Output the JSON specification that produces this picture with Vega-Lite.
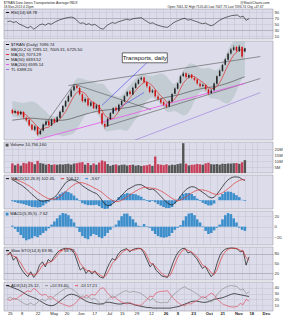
{
  "$schema": "https://vega.github.io/schema/vega-lite/v6.json",
  "padding": {"left": 3, "top": 1, "right": 0, "bottom": 0},
  "background": "white",
  "spacing": 0,
  "title": {
    "text": "$TRAN Dow Jones Transportation Average INDX\u2003\u2003\u2003\u2003\u2003\u2003\u2003\u2003\u2003\u2003\u2003\u2003\u2003\u2003\u2003\u2003\u2003\u2003\u2003\u2003\u2003\u2003\u2003\u2003\u2003\u2003\u2003\u2003\u2003\u2003\u2003\u2003\u2003\u2003\u2003\u2003\u2003\u2003\u2003\u2003\u2003\u2003\u2003\u2003\u2003\u2003\u2003\u2003@StockCharts.com",
    "subtitle": "18-Nov-2013 4:25pm\u2003\u2003\u2003\u2003\u2003\u2003\u2003\u2003\u2003\u2003\u2003\u2003\u2003\u2003\u2003\u2003\u2003\u2003\u2003\u2003\u2003\u2003\u2003\u2003\u2003\u2003\u2003\u2003\u2003\u2003\u2003\u2003\u2003\u2003\u2003\u2003\u2003\u2003\u2003\u2003\u2003\u2003Open 7061.32 High 7105.40 Low 7047.73 Last 7096.74 Chg +47.67",
    "anchor": "start", "fontSize": 3.4, "fontWeight": "normal", "subtitleFontSize": 3.2,
    "offset": 0.5, "subtitlePadding": 0.3, "color": "#222", "subtitleColor": "#222",
    "font": "Liberation Sans", "subtitleFont": "Liberation Sans"
  },
  "resolve": {"scale": {"color": "independent", "x": "independent", "y": "independent"}, "legend": {"color": "independent"}},
  "config": {
    "font": "Liberation Sans",
    "view": {"stroke": "#8f8f9f", "strokeWidth": 0.5, "fill": "#dcdcea"},
    "axis": {"domain": false, "ticks": false, "grid": true, "gridColor": "#c3c3d3", "gridWidth": 0.5, "labelFontSize": 4.2, "labelColor": "#333", "labelPadding": 1},
    "legend": {"orient": "top-left", "offset": 1, "labelFontSize": 4.2, "symbolType": "stroke", "symbolSize": 10, "symbolStrokeWidth": 1, "padding": 0, "rowPadding": 0, "labelOffset": 1, "labelLimit": 300, "columnPadding": 2, "labelColor": "#222"}
  },
  "datasets": {
    "d": [
      {"i":1,"o":6225,"h":6240,"l":6165,"c":6180,"v":8.1,"m10":6200,"m50":6080,"bu":6350,"bl":6130,"rsi":58,"macd":105,"sig":110,"h1":-5,"h2":2,"k":75,"d":78,"adx":44,"pdi":22,"mdi":20},
      {"i":3,"o":6185,"h":6230,"l":6170,"c":6210,"v":6.5,"m10":6195,"m50":6085,"bu":6345,"bl":6125,"rsi":60,"macd":98,"sig":107,"h1":-9,"h2":-4,"k":85,"d":80,"adx":42,"pdi":24,"mdi":18},
      {"i":5,"o":6205,"h":6220,"l":6140,"c":6160,"v":7.8,"m10":6185,"m50":6090,"bu":6335,"bl":6115,"rsi":55,"macd":88,"sig":102,"h1":-14,"h2":-10,"k":60,"d":72,"adx":40,"pdi":20,"mdi":22},
      {"i":7,"o":6165,"h":6215,"l":6150,"c":6200,"v":6.2,"m10":6190,"m50":6095,"bu":6330,"bl":6110,"rsi":58,"macd":80,"sig":96,"h1":-16,"h2":-16,"k":70,"d":70,"adx":38,"pdi":22,"mdi":20},
      {"i":9,"o":6195,"h":6210,"l":6100,"c":6120,"v":8.5,"m10":6174,"m50":6100,"bu":6325,"bl":6085,"rsi":50,"macd":70,"sig":90,"h1":-20,"h2":-22,"k":45,"d":58,"adx":36,"pdi":18,"mdi":25},
      {"i":11,"o":6115,"h":6130,"l":6060,"c":6080,"v":8.0,"m10":6154,"m50":6105,"bu":6330,"bl":6050,"rsi":46,"macd":58,"sig":82,"h1":-24,"h2":-26,"k":30,"d":45,"adx":33,"pdi":15,"mdi":28},
      {"i":13,"o":6085,"h":6095,"l":5990,"c":6010,"v":9.5,"m10":6114,"m50":6108,"bu":6340,"bl":6000,"rsi":41,"macd":45,"sig":74,"h1":-29,"h2":-24,"k":18,"d":30,"adx":30,"pdi":12,"mdi":32},
      {"i":15,"o":6015,"h":6030,"l":5930,"c":5950,"v":9.0,"m10":6072,"m50":6108,"bu":6345,"bl":5945,"rsi":37,"macd":30,"sig":64,"h1":-34,"h2":-22,"k":10,"d":19,"adx":27,"pdi":11,"mdi":35},
      {"i":17,"o":5945,"h":6010,"l":5925,"c":5990,"v":7.4,"m10":6030,"m50":6106,"bu":6335,"bl":5915,"rsi":42,"macd":18,"sig":53,"h1":-35,"h2":-18,"k":25,"d":18,"adx":25,"pdi":14,"mdi":33},
      {"i":19,"o":5985,"h":5995,"l":5860,"c":5880,"v":10.2,"m10":5982,"m50":6102,"bu":6308,"bl":5848,"rsi":33,"macd":5,"sig":42,"h1":-37,"h2":-20,"k":8,"d":15,"adx":23,"pdi":10,"mdi":39},
      {"i":21,"o":5885,"h":5950,"l":5870,"c":5930,"v":8.3,"m10":5952,"m50":6098,"bu":6273,"bl":5833,"rsi":39,"macd":-3,"sig":32,"h1":-35,"h2":-16,"k":20,"d":18,"adx":21,"pdi":13,"mdi":36},
      {"i":23,"o":5935,"h":6035,"l":5920,"c":6020,"v":7.9,"m10":5954,"m50":6095,"bu":6234,"bl":5834,"rsi":47,"macd":-5,"sig":22,"h1":-27,"h2":-12,"k":45,"d":30,"adx":18,"pdi":18,"mdi":30},
      {"i":25,"o":6015,"h":6080,"l":6000,"c":6060,"v":7.0,"m10":5976,"m50":6092,"bu":6204,"bl":5844,"rsi":50,"macd":-2,"sig":14,"h1":-16,"h2":-8,"k":55,"d":45,"adx":15,"pdi":20,"mdi":27},
      {"i":27,"o":6065,"h":6085,"l":5995,"c":6010,"v":7.6,"m10":5980,"m50":6088,"bu":6155,"bl":5855,"rsi":46,"macd":0,"sig":8,"h1":-8,"h2":-3,"k":40,"d":48,"adx":12,"pdi":17,"mdi":29},
      {"i":29,"o":6005,"h":6105,"l":5995,"c":6090,"v":6.8,"m10":6022,"m50":6085,"bu":6142,"bl":5862,"rsi":52,"macd":8,"sig":5,"h1":3,"h2":4,"k":62,"d":52,"adx":10,"pdi":22,"mdi":24},
      {"i":31,"o":6095,"h":6110,"l":6035,"c":6050,"v":7.2,"m10":6046,"m50":6080,"bu":6129,"bl":5869,"rsi":49,"macd":15,"sig":6,"h1":9,"h2":10,"k":55,"d":56,"adx":9,"pdi":20,"mdi":25},
      {"i":33,"o":6055,"h":6135,"l":6045,"c":6120,"v":6.9,"m10":6066,"m50":6078,"bu":6150,"bl":5870,"rsi":55,"macd":30,"sig":10,"h1":20,"h2":16,"k":70,"d":62,"adx":10,"pdi":25,"mdi":21},
      {"i":35,"o":6115,"h":6215,"l":6105,"c":6200,"v":7.3,"m10":6094,"m50":6078,"bu":6205,"bl":5865,"rsi":60,"macd":50,"sig":18,"h1":32,"h2":22,"k":82,"d":74,"adx":13,"pdi":29,"mdi":17},
      {"i":37,"o":6195,"h":6295,"l":6185,"c":6280,"v":7.1,"m10":6148,"m50":6080,"bu":6274,"bl":5854,"rsi":64,"macd":70,"sig":30,"h1":40,"h2":26,"k":90,"d":84,"adx":17,"pdi":33,"mdi":14},
      {"i":39,"o":6275,"h":6365,"l":6265,"c":6350,"v":7.5,"m10":6200,"m50":6085,"bu":6361,"bl":5861,"rsi":67,"macd":90,"sig":44,"h1":46,"h2":25,"k":94,"d":91,"adx":21,"pdi":36,"mdi":12},
      {"i":41,"o":6345,"h":6440,"l":6335,"c":6420,"v":7.7,"m10":6274,"m50":6092,"bu":6450,"bl":5870,"rsi":70,"macd":100,"sig":58,"h1":42,"h2":22,"k":96,"d":94,"adx":25,"pdi":39,"mdi":10},
      {"i":43,"o":6415,"h":6520,"l":6405,"c":6500,"v":7.0,"m10":6350,"m50":6102,"bu":6538,"bl":5878,"rsi":72,"macd":105,"sig":70,"h1":35,"h2":15,"k":95,"d":95,"adx":28,"pdi":40,"mdi":8},
      {"i":45,"o":6505,"h":6585,"l":6490,"c":6560,"v":7.9,"m10":6422,"m50":6115,"bu":6618,"bl":5898,"rsi":73,"macd":104,"sig":80,"h1":24,"h2":8,"k":92,"d":94,"adx":29,"pdi":38,"mdi":9},
      {"i":47,"o":6565,"h":6590,"l":6520,"c":6540,"v":8.2,"m10":6474,"m50":6128,"bu":6671,"bl":5951,"rsi":70,"macd":98,"sig":88,"h1":10,"h2":-2,"k":80,"d":88,"adx":28,"pdi":35,"mdi":12},
      {"i":49,"o":6535,"h":6550,"l":6430,"c":6450,"v":8.8,"m10":6494,"m50":6140,"bu":6677,"bl":6017,"rsi":60,"macd":88,"sig":91,"h1":-3,"h2":-10,"k":55,"d":72,"adx":26,"pdi":30,"mdi":17},
      {"i":51,"o":6445,"h":6460,"l":6330,"c":6350,"v":9.1,"m10":6480,"m50":6152,"bu":6667,"bl":6087,"rsi":52,"macd":75,"sig":90,"h1":-15,"h2":-18,"k":30,"d":50,"adx":23,"pdi":25,"mdi":23},
      {"i":53,"o":6345,"h":6405,"l":6325,"c":6380,"v":7.0,"m10":6456,"m50":6164,"bu":6653,"bl":6153,"rsi":54,"macd":65,"sig":86,"h1":-21,"h2":-22,"k":38,"d":40,"adx":20,"pdi":26,"mdi":22},
      {"i":55,"o":6385,"h":6395,"l":6270,"c":6290,"v":8.4,"m10":6402,"m50":6175,"bu":6642,"bl":6182,"rsi":48,"macd":55,"sig":80,"h1":-25,"h2":-24,"k":20,"d":30,"adx":17,"pdi":22,"mdi":27},
      {"i":57,"o":6285,"h":6350,"l":6270,"c":6330,"v":6.6,"m10":6360,"m50":6185,"bu":6637,"bl":6197,"rsi":51,"macd":48,"sig":73,"h1":-25,"h2":-18,"k":30,"d":28,"adx":15,"pdi":24,"mdi":25},
      {"i":59,"o":6335,"h":6345,"l":6235,"c":6250,"v":8.0,"m10":6320,"m50":6195,"bu":6627,"bl":6187,"rsi":46,"macd":40,"sig":65,"h1":-25,"h2":-14,"k":18,"d":24,"adx":14,"pdi":20,"mdi":29},
      {"i":61,"o":6245,"h":6310,"l":6230,"c":6290,"v":6.9,"m10":6308,"m50":6205,"bu":6604,"bl":6184,"rsi":49,"macd":35,"sig":58,"h1":-23,"h2":-16,"k":28,"d":25,"adx":13,"pdi":22,"mdi":27},
      {"i":63,"o":6295,"h":6305,"l":6165,"c":6180,"v":8.7,"m10":6268,"m50":6212,"bu":6592,"bl":6132,"rsi":42,"macd":20,"sig":50,"h1":-30,"h2":-20,"k":15,"d":20,"adx":12,"pdi":17,"mdi":33},
      {"i":65,"o":6175,"h":6185,"l":6010,"c":6030,"v":10.5,"m10":6216,"m50":6218,"bu":6599,"bl":6019,"rsi":35,"macd":0,"sig":40,"h1":-40,"h2":-22,"k":8,"d":14,"adx":12,"pdi":12,"mdi":39},
      {"i":67,"o":6025,"h":6050,"l":5960,"c":5990,"v":9.8,"m10":6148,"m50":6222,"bu":6574,"bl":5934,"rsi":33,"macd":-20,"sig":28,"h1":-48,"h2":-18,"k":6,"d":9,"adx":13,"pdi":11,"mdi":40},
      {"i":69,"o":5995,"h":6115,"l":5985,"c":6100,"v":7.5,"m10":6118,"m50":6226,"bu":6519,"bl":5919,"rsi":44,"macd":-28,"sig":15,"h1":-43,"h2":-12,"k":30,"d":15,"adx":15,"pdi":18,"mdi":33},
      {"i":71,"o":6095,"h":6195,"l":6085,"c":6180,"v":6.1,"m10":6096,"m50":6230,"bu":6472,"bl":5932,"rsi":50,"macd":-25,"sig":5,"h1":-30,"h2":-6,"k":50,"d":32,"adx":15,"pdi":22,"mdi":28},
      {"i":73,"o":6175,"h":6265,"l":6165,"c":6250,"v":6.8,"m10":6110,"m50":6235,"bu":6439,"bl":5939,"rsi":55,"macd":-15,"sig":-3,"h1":-12,"h2":-1,"k":65,"d":50,"adx":14,"pdi":26,"mdi":22},
      {"i":75,"o":6255,"h":6275,"l":6205,"c":6220,"v":7.2,"m10":6148,"m50":6240,"bu":6422,"bl":5942,"rsi":52,"macd":-5,"sig":-7,"h1":2,"h2":4,"k":60,"d":60,"adx":13,"pdi":24,"mdi":24},
      {"i":77,"o":6215,"h":6315,"l":6205,"c":6300,"v":6.4,"m10":6210,"m50":6244,"bu":6409,"bl":5949,"rsi":57,"macd":10,"sig":-6,"h1":16,"h2":12,"k":78,"d":68,"adx":12,"pdi":28,"mdi":19},
      {"i":79,"o":6295,"h":6370,"l":6285,"c":6350,"v":6.9,"m10":6260,"m50":6248,"bu":6429,"bl":5949,"rsi":60,"macd":25,"sig":0,"h1":25,"h2":20,"k":88,"d":80,"adx":12,"pdi":31,"mdi":16},
      {"i":81,"o":6345,"h":6435,"l":6335,"c":6420,"v":7.1,"m10":6308,"m50":6252,"bu":6472,"bl":5932,"rsi":63,"macd":40,"sig":8,"h1":32,"h2":25,"k":92,"d":88,"adx":13,"pdi":34,"mdi":14},
      {"i":83,"o":6425,"h":6495,"l":6410,"c":6480,"v":6.3,"m10":6354,"m50":6258,"bu":6532,"bl":5932,"rsi":66,"macd":55,"sig":18,"h1":37,"h2":25,"k":95,"d":92,"adx":14,"pdi":35,"mdi":12},
      {"i":85,"o":6485,"h":6500,"l":6430,"c":6450,"v":6.7,"m10":6400,"m50":6265,"bu":6574,"bl":5974,"rsi":63,"macd":62,"sig":28,"h1":34,"h2":20,"k":85,"d":90,"adx":13,"pdi":32,"mdi":15},
      {"i":87,"o":6445,"h":6555,"l":6435,"c":6540,"v":7.0,"m10":6448,"m50":6272,"bu":6619,"bl":6039,"rsi":67,"macd":70,"sig":38,"h1":32,"h2":14,"k":92,"d":90,"adx":12,"pdi":34,"mdi":12},
      {"i":89,"o":6535,"h":6615,"l":6525,"c":6600,"v":6.2,"m10":6498,"m50":6280,"bu":6669,"bl":6089,"rsi":69,"macd":78,"sig":47,"h1":31,"h2":8,"k":95,"d":92,"adx":10,"pdi":33,"mdi":11},
      {"i":91,"o":6595,"h":6670,"l":6585,"c":6650,"v":6.6,"m10":6544,"m50":6290,"bu":6706,"bl":6146,"rsi":70,"macd":80,"sig":55,"h1":25,"h2":2,"k":96,"d":95,"adx":9,"pdi":32,"mdi":10},
      {"i":93,"o":6655,"h":6700,"l":6640,"c":6680,"v":5.9,"m10":6584,"m50":6300,"bu":6729,"bl":6209,"rsi":71,"macd":80,"sig":62,"h1":18,"h2":1,"k":94,"d":95,"adx":8,"pdi":30,"mdi":10},
      {"i":95,"o":6685,"h":6695,"l":6600,"c":6620,"v":6.3,"m10":6618,"m50":6312,"bu":6729,"bl":6289,"rsi":64,"macd":72,"sig":66,"h1":6,"h2":5,"k":80,"d":88,"adx":7,"pdi":26,"mdi":15},
      {"i":97,"o":6615,"h":6630,"l":6540,"c":6560,"v":6.5,"m10":6622,"m50":6324,"bu":6715,"bl":6355,"rsi":58,"macd":62,"sig":66,"h1":-4,"h2":1,"k":60,"d":72,"adx":6,"pdi":22,"mdi":20},
      {"i":99,"o":6555,"h":6570,"l":6460,"c":6480,"v":7.2,"m10":6598,"m50":6336,"bu":6708,"bl":6388,"rsi":52,"macd":55,"sig":64,"h1":-9,"h2":-2,"k":40,"d":52,"adx":6,"pdi":18,"mdi":26},
      {"i":101,"o":6475,"h":6520,"l":6460,"c":6500,"v":6.0,"m10":6568,"m50":6348,"bu":6706,"bl":6406,"rsi":54,"macd":58,"sig":62,"h1":-4,"h2":-8,"k":50,"d":48,"adx":5,"pdi":22,"mdi":24},
      {"i":103,"o":6505,"h":6515,"l":6400,"c":6420,"v":13.8,"m10":6516,"m50":6360,"bu":6720,"bl":6380,"rsi":48,"macd":50,"sig":60,"h1":-10,"h2":-14,"k":30,"d":40,"adx":5,"pdi":16,"mdi":31},
      {"i":105,"o":6415,"h":6440,"l":6360,"c":6380,"v":7.4,"m10":6468,"m50":6372,"bu":6733,"bl":6353,"rsi":45,"macd":35,"sig":55,"h1":-20,"h2":-18,"k":22,"d":30,"adx":5,"pdi":15,"mdi":33},
      {"i":107,"o":6375,"h":6395,"l":6310,"c":6330,"v":7.0,"m10":6422,"m50":6384,"bu":6742,"bl":6302,"rsi":42,"macd":20,"sig":48,"h1":-28,"h2":-20,"k":12,"d":20,"adx":5,"pdi":14,"mdi":34},
      {"i":109,"o":6335,"h":6355,"l":6280,"c":6300,"v":6.6,"m10":6386,"m50":6394,"bu":6732,"bl":6252,"rsi":40,"macd":5,"sig":40,"h1":-35,"h2":-21,"k":10,"d":13,"adx":5,"pdi":15,"mdi":34},
      {"i":111,"o":6295,"h":6320,"l":6250,"c":6270,"v":7.3,"m10":6340,"m50":6404,"bu":6704,"bl":6204,"rsi":39,"macd":-10,"sig":30,"h1":-40,"h2":-20,"k":8,"d":10,"adx":5,"pdi":14,"mdi":35},
      {"i":113,"o":6275,"h":6365,"l":6265,"c":6350,"v":6.4,"m10":6326,"m50":6412,"bu":6651,"bl":6191,"rsi":46,"macd":-20,"sig":20,"h1":-40,"h2":-18,"k":30,"d":16,"adx":5,"pdi":22,"mdi":28},
      {"i":115,"o":6345,"h":6465,"l":6335,"c":6450,"v":7.0,"m10":6340,"m50":6420,"bu":6604,"bl":6204,"rsi":54,"macd":-25,"sig":10,"h1":-35,"h2":-12,"k":55,"d":35,"adx":6,"pdi":28,"mdi":22},
      {"i":117,"o":6455,"h":6545,"l":6445,"c":6530,"v":6.8,"m10":6380,"m50":6428,"bu":6591,"bl":6211,"rsi":59,"macd":-15,"sig":2,"h1":-17,"h2":-6,"k":75,"d":58,"adx":7,"pdi":32,"mdi":17},
      {"i":119,"o":6525,"h":6615,"l":6515,"c":6600,"v":7.5,"m10":6440,"m50":6436,"bu":6633,"bl":6193,"rsi":63,"macd":0,"sig":-3,"h1":3,"h2":-2,"k":88,"d":76,"adx":8,"pdi":36,"mdi":13},
      {"i":121,"o":6605,"h":6720,"l":6595,"c":6700,"v":8.0,"m10":6526,"m50":6446,"bu":6703,"bl":6163,"rsi":67,"macd":20,"sig":0,"h1":20,"h2":3,"k":95,"d":88,"adx":10,"pdi":40,"mdi":10},
      {"i":123,"o":6705,"h":6765,"l":6690,"c":6740,"v":25.0,"m10":6604,"m50":6458,"bu":6785,"bl":6145,"rsi":69,"macd":40,"sig":8,"h1":32,"h2":12,"k":96,"d":94,"adx":12,"pdi":42,"mdi":9},
      {"i":125,"o":6745,"h":6755,"l":6670,"c":6690,"v":7.8,"m10":6652,"m50":6470,"bu":6836,"bl":6156,"rsi":63,"macd":55,"sig":18,"h1":37,"h2":20,"k":82,"d":90,"adx":14,"pdi":38,"mdi":13},
      {"i":127,"o":6685,"h":6740,"l":6670,"c":6720,"v":6.4,"m10":6690,"m50":6482,"bu":6875,"bl":6195,"rsi":65,"macd":65,"sig":28,"h1":37,"h2":25,"k":85,"d":86,"adx":16,"pdi":36,"mdi":12},
      {"i":129,"o":6725,"h":6735,"l":6660,"c":6680,"v":6.9,"m10":6706,"m50":6494,"bu":6883,"bl":6263,"rsi":61,"macd":70,"sig":38,"h1":32,"h2":26,"k":75,"d":80,"adx":17,"pdi":33,"mdi":15},
      {"i":131,"o":6675,"h":6700,"l":6630,"c":6650,"v":7.1,"m10":6696,"m50":6504,"bu":6871,"bl":6351,"rsi":58,"macd":68,"sig":46,"h1":22,"h2":22,"k":65,"d":72,"adx":17,"pdi":30,"mdi":17},
      {"i":133,"o":6655,"h":6665,"l":6580,"c":6600,"v":7.6,"m10":6668,"m50":6514,"bu":6836,"bl":6436,"rsi":54,"macd":60,"sig":52,"h1":8,"h2":14,"k":50,"d":60,"adx":16,"pdi":26,"mdi":21},
      {"i":135,"o":6595,"h":6620,"l":6540,"c":6560,"v":7.3,"m10":6642,"m50":6522,"bu":6817,"bl":6477,"rsi":51,"macd":50,"sig":54,"h1":-4,"h2":8,"k":35,"d":45,"adx":15,"pdi":22,"mdi":25},
      {"i":137,"o":6565,"h":6600,"l":6545,"c":6580,"v":6.9,"m10":6614,"m50":6530,"bu":6812,"bl":6492,"rsi":53,"macd":40,"sig":53,"h1":-13,"h2":1,"k":42,"d":40,"adx":15,"pdi":24,"mdi":23},
      {"i":139,"o":6575,"h":6590,"l":6500,"c":6520,"v":8.1,"m10":6582,"m50":6536,"bu":6814,"bl":6474,"rsi":48,"macd":30,"sig":50,"h1":-20,"h2":-8,"k":25,"d":34,"adx":16,"pdi":19,"mdi":27},
      {"i":141,"o":6515,"h":6530,"l":6440,"c":6460,"v":8.6,"m10":6544,"m50":6542,"bu":6820,"bl":6420,"rsi":44,"macd":18,"sig":45,"h1":-27,"h2":-14,"k":10,"d":22,"adx":18,"pdi":15,"mdi":31},
      {"i":143,"o":6465,"h":6520,"l":6450,"c":6500,"v":7.4,"m10":6524,"m50":6548,"bu":6806,"bl":6386,"rsi":48,"macd":12,"sig":38,"h1":-26,"h2":-12,"k":20,"d":16,"adx":20,"pdi":20,"mdi":28},
      {"i":145,"o":6505,"h":6615,"l":6495,"c":6600,"v":7.2,"m10":6532,"m50":6555,"bu":6787,"bl":6387,"rsi":56,"macd":15,"sig":32,"h1":-17,"h2":-7,"k":50,"d":30,"adx":21,"pdi":28,"mdi":21},
      {"i":147,"o":6595,"h":6715,"l":6585,"c":6700,"v":7.5,"m10":6556,"m50":6563,"bu":6785,"bl":6385,"rsi":63,"macd":30,"sig":30,"h1":0,"h2":-2,"k":75,"d":55,"adx":22,"pdi":34,"mdi":16},
      {"i":149,"o":6705,"h":6795,"l":6695,"c":6780,"v":7.0,"m10":6608,"m50":6572,"bu":6825,"bl":6365,"rsi":68,"macd":50,"sig":32,"h1":18,"h2":4,"k":88,"d":75,"adx":23,"pdi":38,"mdi":12},
      {"i":151,"o":6775,"h":6875,"l":6765,"c":6860,"v":7.8,"m10":6688,"m50":6582,"bu":6896,"bl":6336,"rsi":72,"macd":70,"sig":38,"h1":32,"h2":14,"k":94,"d":88,"adx":25,"pdi":41,"mdi":10},
      {"i":153,"o":6865,"h":6955,"l":6855,"c":6940,"v":7.6,"m10":6776,"m50":6594,"bu":6980,"bl":6320,"rsi":75,"macd":90,"sig":48,"h1":42,"h2":22,"k":96,"d":94,"adx":27,"pdi":43,"mdi":8},
      {"i":155,"o":6935,"h":7035,"l":6925,"c":7020,"v":8.0,"m10":6860,"m50":6606,"bu":7076,"bl":6316,"rsi":78,"macd":105,"sig":60,"h1":45,"h2":26,"k":97,"d":96,"adx":29,"pdi":44,"mdi":7},
      {"i":157,"o":7025,"h":7100,"l":7010,"c":7080,"v":7.9,"m10":6936,"m50":6620,"bu":7146,"bl":6346,"rsi":79,"macd":115,"sig":72,"h1":43,"h2":24,"k":96,"d":96,"adx":30,"pdi":43,"mdi":7},
      {"i":159,"o":7075,"h":7140,"l":7060,"c":7110,"v":8.2,"m10":7002,"m50":6635,"bu":7205,"bl":6405,"rsi":80,"macd":120,"sig":84,"h1":36,"h2":16,"k":94,"d":95,"adx":29,"pdi":42,"mdi":8},
      {"i":161,"o":7115,"h":7130,"l":7040,"c":7060,"v":8.4,"m10":7042,"m50":6650,"bu":7245,"bl":6485,"rsi":73,"macd":120,"sig":94,"h1":26,"h2":8,"k":85,"d":90,"adx":28,"pdi":36,"mdi":13},
      {"i":163,"o":7055,"h":7145,"l":7045,"c":7120,"v":7.7,"m10":7078,"m50":6666,"bu":7267,"bl":6587,"rsi":76,"macd":118,"sig":102,"h1":16,"h2":-2,"k":88,"d":88,"adx":27,"pdi":38,"mdi":11},
      {"i":165,"o":7115,"h":7125,"l":6955,"c":6980,"v":9.0,"m10":7070,"m50":6680,"bu":7265,"bl":6665,"rsi":62,"macd":108,"sig":106,"h1":2,"h2":-6,"k":45,"d":68,"adx":26,"pdi":30,"mdi":20},
      {"i":167,"o":7050,"h":7105,"l":7040,"c":7097,"v":10.8,"m10":7073,"m50":6694,"bu":7285,"bl":6725,"rsi":68,"macd":102,"sig":106,"h1":-4,"h2":-8,"k":70,"d":60,"adx":25,"pdi":33,"mdi":17}
    ],
    "m200": [
      {"i":1,"p":5710},{"i":41,"p":5925},{"i":81,"p":6140},{"i":121,"p":6360},{"i":167,"p":6600}
    ],
    "tl": [
      {"g":"a","i":41,"p":6570},{"g":"a","i":178,"p":6980},
      {"g":"b","i":67,"p":5990},{"g":"b","i":178,"p":6670},
      {"g":"c","i":19,"p":5870},{"g":"c","i":45,"p":6590},
      {"g":"d","i":45,"p":6590},{"g":"d","i":100,"p":6230},
      {"g":"e","i":65,"p":6290},{"g":"e","i":97,"p":6892},
      {"g":"f","i":72,"p":6192},{"g":"f","i":95,"p":6472},
      {"g":"p","i":70,"p":5660},{"g":"p","i":178,"p":6470}
    ],
    "note": [
      {"i":79.5,"i2":111.6,"p":7032,"p2":6892,"ic":95.5,"pc":6962,"t":"Transports, daily"}
    ]
  },
  "vconcat": [
    {
      "width": 269, "height": 30,
      "data": {"name": "d"},
      "mark": {"type": "line", "strokeWidth": 0.6, "clip": true},
      "encoding": {
        "x": {"field": "i", "type": "quantitative", "scale": {"domain": [-1.4, 183.5], "nice": false, "zero": false},
              "axis": {"values": [1,5,10,15,20,25,30,35,40,45,49,54,59,64,69,73,78,83,88,93,98,103,108,113,117,122,127,132,137,142,147,152,157,162,167,172,176], "labels": false, "title": null}},
        "y": {"field": "rsi", "type": "quantitative", "scale": {"domain": [0, 100], "nice": false},
              "axis": {"orient": "right", "values": [10,30,50,70,90], "title": null,
                       "gridColor": {"condition": {"test": "datum.value==30 || datum.value==70", "value": "#8a8a9a"}, "value": "#c3c3d3"}}},
        "color": {"datum": "RSI(14) 68.78", "title": null, "scale": {"range": ["#111111"]}, "legend": {"title": null}}
      }
    },
    {
      "width": 269, "height": 99,
      "encoding": {
        "x": {"field": "i", "type": "quantitative", "scale": {"domain": [-1.4, 183.5], "nice": false, "zero": false},
              "axis": {"values": [1,5,10,15,20,25,30,35,40,45,49,54,59,64,69,73,78,83,88,93,98,103,108,113,117,122,127,132,137,142,147,152,157,162,167,172,176],
                       "labelExpr": "['25','Apr','8','15','22','29','May','13','20','28','Jun','10','17','24','Jul','8','15','22','29','Aug','12','19','26','Sep','9','16','23','30','Oct','14','21','28','Nov','11','18','25','Dec'][indexof([1,5,10,15,20,25,30,35,40,45,49,54,59,64,69,73,78,83,88,93,98,103,108,113,117,122,127,132,137,142,147,152,157,162,167,172,176], datum.value)]",
                       "labelAlign": "left", "labelPadding": 0.5, "labelColor": "#222", "title": null,
                       "labelFontWeight": {"condition": {"test": "length(datum.label) > 2", "value": "bold"}, "value": "normal"}}}
      },
      "layer": [
        {
          "data": {"name": "d"},
          "mark": {"type": "area", "color": "#aebfbf", "opacity": 0.55, "clip": true},
          "encoding": {
            "y": {"field": "bu", "type": "quantitative", "scale": {"domain": [5800, 7200], "nice": false, "zero": false},
                  "axis": {"orient": "right", "values": [5900,6000,6100,6200,6300,6400,6500,6600,6700,6800,6900,7000,7100], "format": "d", "title": null}},
            "y2": {"field": "bl"}
          }
        },
        {
          "data": {"name": "tl"},
          "mark": {"type": "line", "strokeWidth": 0.6, "clip": true},
          "encoding": {
            "y": {"field": "p", "type": "quantitative", "scale": {"domain": [5800, 7200], "nice": false, "zero": false}, "axis": null},
            "detail": {"field": "g"},
            "stroke": {"field": "g", "type": "nominal", "scale": {"domain": ["a","b","c","d","e","f","p"], "range": ["#555555","#555555","#555555","#555555","#4444ee","#4444ee","#9a77dd"]}, "legend": null}
          }
        },
        {
          "data": {"name": "m200"},
          "mark": {"type": "line", "strokeWidth": 0.8, "clip": true},
          "encoding": {
            "y": {"field": "p", "type": "quantitative", "scale": {"domain": [5800, 7200], "nice": false, "zero": false}, "axis": null},
            "color": {"datum": "MA(200) 6595.14", "title": null,
                      "scale": {"domain": ["$TRAN (Daily) 7096.74", "BB(20,2.0) 7285.12, 7005.31, 6725.50", "MA(10) 7073.29", "MA(50) 6693.52", "MA(200) 6595.14", "TL 6388.20"],
                                "range": ["#000000", "#8a9a9a", "#e03030", "#555555", "#e858e8", "#9a77dd"]},
                      "legend": {"title": null}}
          }
        },
        {
          "data": {"name": "d"},
          "mark": {"type": "line", "strokeWidth": 0.7, "clip": true},
          "encoding": {
            "y": {"field": "m50", "type": "quantitative", "scale": {"domain": [5800, 7200], "nice": false, "zero": false}, "axis": null},
            "color": {"datum": "MA(50) 6693.52", "title": null}
          }
        },
        {
          "data": {"name": "d"},
          "mark": {"type": "line", "strokeWidth": 0.7, "clip": true},
          "encoding": {
            "y": {"field": "m10", "type": "quantitative", "scale": {"domain": [5800, 7200], "nice": false, "zero": false}, "axis": null},
            "color": {"datum": "MA(10) 7073.29", "title": null}
          }
        },
        {
          "data": {"name": "d"},
          "mark": {"type": "rule", "strokeWidth": 0.5, "clip": true},
          "encoding": {
            "y": {"field": "l", "type": "quantitative", "scale": {"domain": [5800, 7200], "nice": false, "zero": false}, "axis": null},
            "y2": {"field": "h"},
            "stroke": {"condition": {"test": "datum.c < datum.o", "value": "#d01010"}, "value": "#222222"}
          }
        },
        {
          "data": {"name": "d"},
          "mark": {"type": "bar", "width": 1.5, "clip": true},
          "encoding": {
            "y": {"field": "o", "type": "quantitative", "scale": {"domain": [5800, 7200], "nice": false, "zero": false}, "axis": null},
            "y2": {"field": "c"},
            "fill": {"condition": {"test": "datum.c < datum.o", "value": "#d01010"}, "value": "#222222"}
          }
        },
        {
          "data": {"name": "note"},
          "mark": {"type": "rect", "fill": "white", "stroke": "#111", "strokeWidth": 0.6},
          "encoding": {
            "x2": {"field": "i2"},
            "y": {"field": "p", "type": "quantitative", "scale": {"domain": [5800, 7200], "nice": false, "zero": false}, "axis": null},
            "y2": {"field": "p2"}
          }
        },
        {
          "data": {"name": "note"},
          "mark": {"type": "text", "fontSize": 6, "color": "#111"},
          "encoding": {
            "x": {"field": "ic", "type": "quantitative", "axis": null},
            "y": {"field": "pc", "type": "quantitative", "scale": {"domain": [5800, 7200], "nice": false, "zero": false}, "axis": null},
            "text": {"field": "t"}
          }
        }
      ]
    },
    {
      "width": 269, "height": 31,
      "data": {"name": "d"},
      "mark": {"type": "bar", "width": 2.4},
      "encoding": {
        "x": {"field": "i", "type": "quantitative", "scale": {"domain": [-1.4, 183.5], "nice": false, "zero": false},
              "axis": {"values": [1,5,10,15,20,25,30,35,40,45,49,54,59,64,69,73,78,83,88,93,98,103,108,113,117,122,127,132,137,142,147,152,157,162,167,172,176], "labels": false, "title": null}},
        "y": {"field": "v", "type": "quantitative", "scale": {"domain": [0, 26], "nice": false},
              "axis": {"orient": "right", "values": [5,10,15,20], "labelExpr": "datum.value + 'M'", "title": null}},
        "color": {"condition": {"test": "datum.c < datum.o", "value": "#c8405a"}, "datum": "Volume 10,756,160", "title": null, "scale": {"range": ["#555555"]}, "legend": {"title": null, "symbolType": "square", "symbolSize": 8}}
      }
    },
    {
      "width": 269, "height": 34,
      "data": {"name": "d"},
      "encoding": {
        "x": {"field": "i", "type": "quantitative", "scale": {"domain": [-1.4, 183.5], "nice": false, "zero": false},
              "axis": {"values": [1,5,10,15,20,25,30,35,40,45,49,54,59,64,69,73,78,83,88,93,98,103,108,113,117,122,127,132,137,142,147,152,157,162,167,172,176], "labels": false, "title": null}}
      },
      "layer": [
        {
          "mark": {"type": "bar", "width": 2.6, "clip": true},
          "encoding": {
            "y": {"field": "h1", "type": "quantitative", "scale": {"domain": [-45, 130], "nice": false},
                  "axis": {"orient": "right", "values": [-25,0,25,50,75,100], "title": null}},
            "color": {"datum": "h1", "title": null, "scale": {"domain": ["macd","sig","h1"], "range": ["#111111","#e03a3a","#3d8fcc"]},
                      "legend": {"title": null, "direction": "horizontal",
                                 "labelExpr": "datum.label=='macd' ? 'MACD(12,26,9) 102.45,' : datum.label=='sig' ? '106.12,' : '-3.67'"}}
          }
        },
        {
          "transform": [{"fold": ["macd", "sig"], "as": ["key", "val"]}],
          "mark": {"type": "line", "strokeWidth": 0.7, "clip": true},
          "encoding": {
            "y": {"field": "val", "type": "quantitative", "scale": {"domain": [-45, 130], "nice": false}, "axis": null},
            "color": {"field": "key", "type": "nominal", "title": null}
          }
        }
      ]
    },
    {
      "width": 269, "height": 34,
      "data": {"name": "d"},
      "mark": {"type": "bar", "width": 2.6, "clip": true},
      "encoding": {
        "x": {"field": "i", "type": "quantitative", "scale": {"domain": [-1.4, 183.5], "nice": false, "zero": false},
              "axis": {"values": [1,5,10,15,20,25,30,35,40,45,49,54,59,64,69,73,78,83,88,93,98,103,108,113,117,122,127,132,137,142,147,152,157,162,167,172,176], "labels": false, "title": null}},
        "y": {"field": "h2", "type": "quantitative", "scale": {"domain": [-35, 30], "nice": false},
              "axis": {"orient": "right", "values": [-20,0,20], "title": null}},
        "color": {"datum": "MACD(5,35,5) -7.62", "title": null, "scale": {"range": ["#3d8fcc"]}, "legend": {"title": null, "symbolType": "square", "symbolSize": 8}}
      }
    },
    {
      "width": 269, "height": 33,
      "data": {"name": "d"},
      "transform": [{"fold": ["k", "d"], "as": ["key", "val"]}],
      "mark": {"type": "line", "strokeWidth": 0.7, "clip": true},
      "encoding": {
        "x": {"field": "i", "type": "quantitative", "scale": {"domain": [-1.4, 183.5], "nice": false, "zero": false},
              "axis": {"values": [1,5,10,15,20,25,30,35,40,45,49,54,59,64,69,73,78,83,88,93,98,103,108,113,117,122,127,132,137,142,147,152,157,162,167,172,176], "labels": false, "title": null}},
        "y": {"field": "val", "type": "quantitative", "scale": {"domain": [0, 100], "nice": false},
              "axis": {"orient": "right", "values": [20,50,80], "title": null,
                       "gridColor": {"condition": {"test": "datum.value==50", "value": "#c3c3d3"}, "value": "#8a8a9a"}}},
        "color": {"field": "key", "type": "nominal", "title": null, "scale": {"domain": ["k","d"], "range": ["#111111","#e03a3a"]},
                  "legend": {"title": null, "direction": "horizontal", "labelExpr": "datum.label=='k' ? 'Slow STO(14,3) 69.96,' : '59.72'"}}
      }
    },
    {
      "width": 269, "height": 29,
      "data": {"name": "d"},
      "transform": [{"fold": ["adx", "pdi", "mdi"], "as": ["key", "val"]}],
      "mark": {"type": "line", "strokeWidth": 0.7, "clip": true},
      "encoding": {
        "x": {"field": "i", "type": "quantitative", "scale": {"domain": [-1.4, 183.5], "nice": false, "zero": false},
              "axis": {"values": [1,5,10,15,20,25,30,35,40,45,49,54,59,64,69,73,78,83,88,93,98,103,108,113,117,122,127,132,137,142,147,152,157,162,167,172,176],
                       "labelExpr": "['25','Apr','8','15','22','29','May','13','20','28','Jun','10','17','24','Jul','8','15','22','29','Aug','12','19','26','Sep','9','16','23','30','Oct','14','21','28','Nov','11','18','25','Dec'][indexof([1,5,10,15,20,25,30,35,40,45,49,54,59,64,69,73,78,83,88,93,98,103,108,113,117,122,127,132,137,142,147,152,157,162,167,172,176], datum.value)]",
                       "labelAlign": "left", "labelPadding": 0.5, "labelColor": "#222", "title": null,
                       "labelFontWeight": {"condition": {"test": "length(datum.label) > 2", "value": "bold"}, "value": "normal"}}},
        "y": {"field": "val", "type": "quantitative", "scale": {"domain": [0, 50], "nice": false},
              "axis": {"orient": "right", "values": [10,20,30,40], "title": null}},
        "color": {"field": "key", "type": "nominal", "title": null, "scale": {"domain": ["adx","pdi","mdi"], "range": ["#111111","#909090","#e05565"]},
                  "legend": {"title": null, "direction": "horizontal", "labelExpr": "datum.label=='adx' ? 'ADX(14) 25.12,' : datum.label=='pdi' ? '+DI 33.40,' : '-DI 17.21'"}}
      }
    }
  ]
}
